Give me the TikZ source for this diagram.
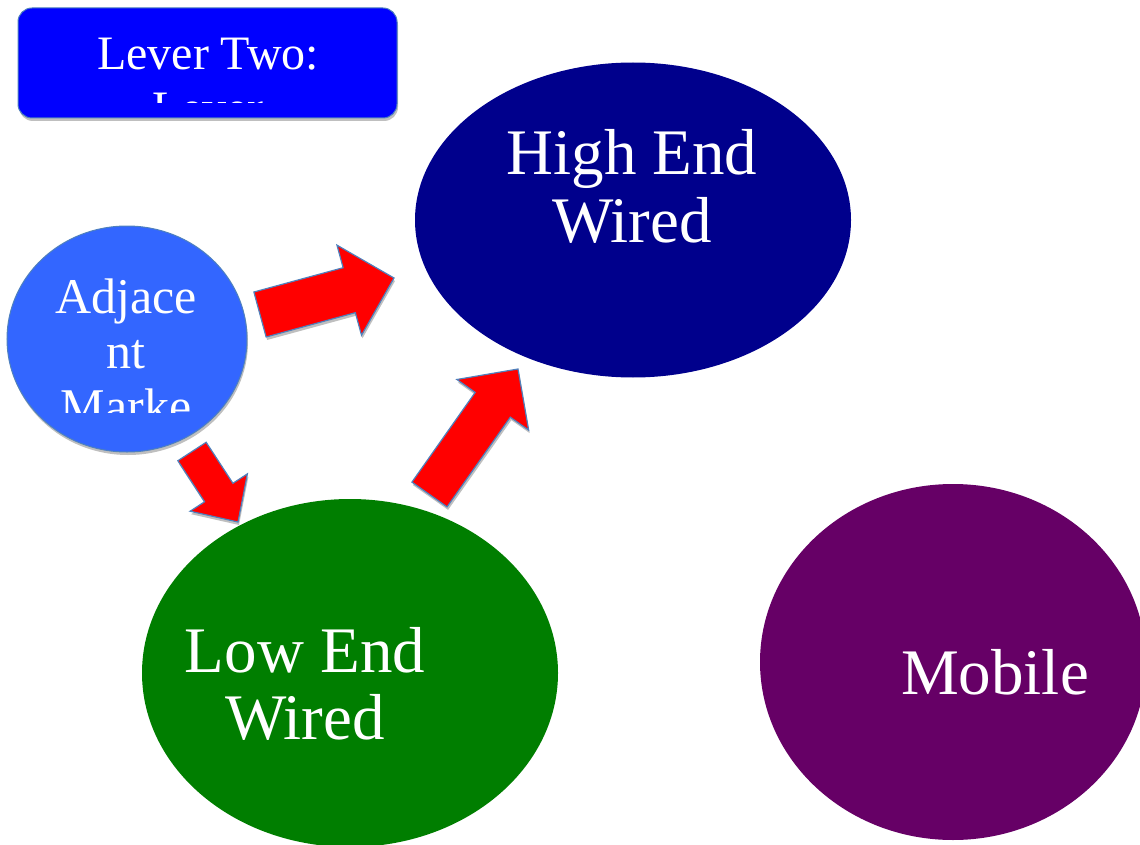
\documentclass[tikz,border=0pt]{standalone}
\usepackage{fontspec}
\setmainfont{Liberation Serif}
\usepackage{tikz}
\usetikzlibrary{shapes.geometric,calc,shadows}

\definecolor{leverblue}{RGB}{0,0,255}
\definecolor{adjblue}{RGB}{51,102,255}
\definecolor{highblue}{RGB}{0,0,140}
\definecolor{lowgreen}{RGB}{0,126,0}
\definecolor{mobpurple}{RGB}{102,0,102}
\definecolor{edgeblue}{RGB}{79,129,189}

\newcommand{\bigfont}{\fontsize{65}{67}\selectfont}
\newcommand{\midfont}{\fontsize{50}{55}\selectfont}
\newcommand{\boxfont}{\fontsize{48}{55}\selectfont}

\tikzset{
  bubble/.style={ellipse, inner sep=0pt, draw=none},
  txt/.style={text=white, align=center, inner sep=0pt, anchor=base},
  shade/.style={drop shadow={shadow xshift=1pt, shadow yshift=-3pt, fill=black, opacity=0.25}},
  arrowblk/.style={fill=red, draw=edgeblue, line width=1.2pt, line join=miter, shade},
}

% block arrow: tail, tip, shaft half width, head half width, head length
\newcommand{\blockarrow}[5]{%
  \coordinate (hb) at ($(#2)!#5!(#1)$);
  \filldraw[arrowblk] ($(#1)!#3!90:(#2)$) -- ($(hb)!#3!90:(#2)$)
    -- ($(hb)!#4!90:(#2)$) -- (#2) -- ($(hb)!#4!-90:(#2)$)
    -- ($(hb)!#3!-90:(#2)$) -- ($(#1)!#3!-90:(#2)$) -- cycle;
}

\begin{document}
\begin{tikzpicture}[x=1pt, y=-1pt]
    \useasboundingbox (0,0) rectangle (1140,845);

    % the three markets (text anchored at the baseline of its last line)
    \node[bubble, fill=highblue, minimum width=436pt, minimum height=315pt] (high) at (633,220) {};
    \node[bubble, fill=lowgreen, minimum width=416pt, minimum height=348pt] (low) at (350,673) {};
    \node[bubble, fill=mobpurple, minimum width=386pt, minimum height=356pt] (mobile) at (953,662) {};
    \node[txt, font=\bigfont] (highT) at (632,242) {High End\\Wired};
    \node[txt, font=\bigfont] (lowT) at (305,739) {Low End\\Wired};
    \node[txt, font=\bigfont] (mobileT) at (995,694) {Mobile};

    % adjacent market circle
    \node[bubble, fill=adjblue, draw=edgeblue, line width=1pt, shade,
          minimum width=240pt, minimum height=226pt] (adj) at (127,339) {};
    \begin{scope}
        \clip (0,220) rectangle (260,412);
        \node[txt, font=\midfont] (adjT) at (126,423) {Adjace\\nt\\Marke};
    \end{scope}

    % title box
    \node[rectangle, rounded corners=14pt, fill=leverblue, draw=edgeblue, line width=1pt, shade,
          minimum width=379pt, minimum height=110pt] (lever) at (207.5,63) {};
    \begin{scope}
        \clip (18,8) rectangle (397,103);
        \node[txt, font=\boxfont] (leverT) at (208,125) {Lever Two:\\Lever};
    \end{scope}

    % arrows
    \coordinate (a1t) at (260,314.5);  \coordinate (a1h) at (394,278);
    \coordinate (a2t) at (429.5,494.5); \coordinate (a2h) at (518,369);
    \coordinate (a3t) at (192,451.5);  \coordinate (a3h) at (238,522);
    \blockarrow{a1t}{a1h}{23.3pt}{46.7pt}{46.4pt}
    \blockarrow{a2t}{a2h}{21.5pt}{43.9pt}{43.8pt}
    \blockarrow{a3t}{a3h}{16.9pt}{34.2pt}{35.2pt}
\end{tikzpicture}
\end{document}
